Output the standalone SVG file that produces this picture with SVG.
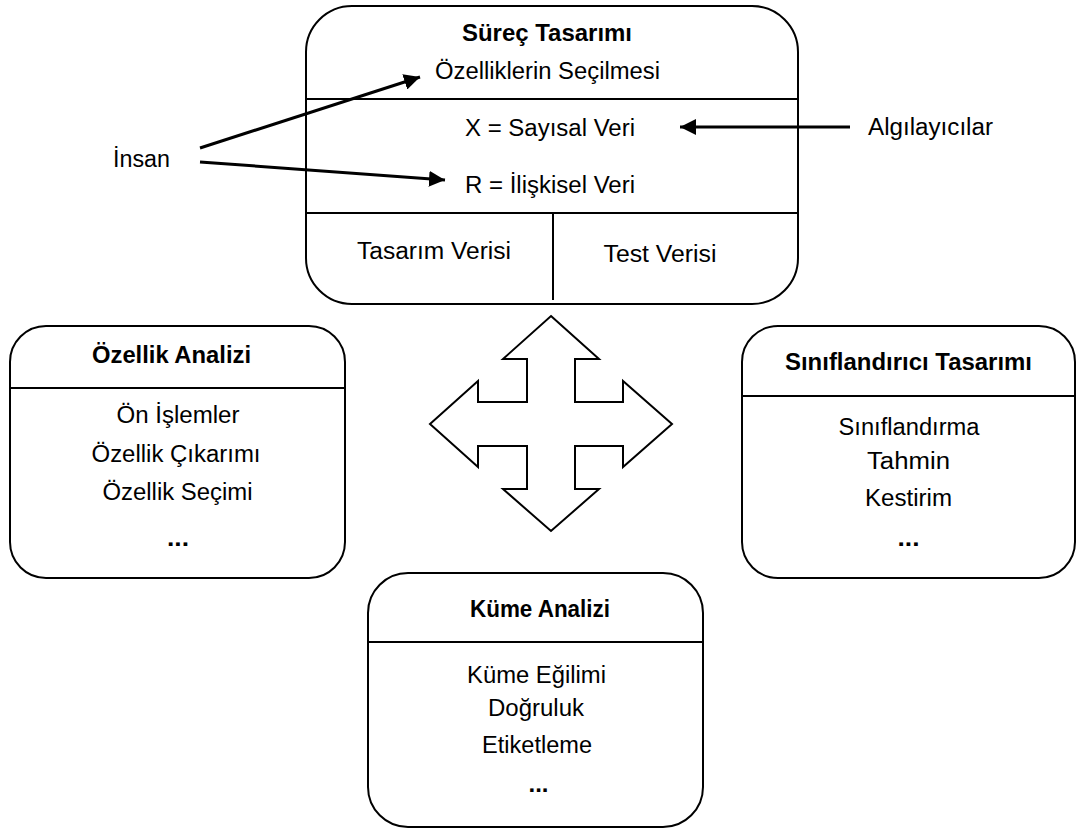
<svg xmlns="http://www.w3.org/2000/svg" width="1078" height="829" viewBox="0 0 1078 829">
<style>
.box{fill:#fff;stroke:#000;stroke-width:2}
.sep{stroke:#000;stroke-width:2}
.t{font-family:"Liberation Sans",Arial,sans-serif;font-size:23px;fill:#000;text-anchor:middle}
.b{font-weight:bold}
.l{text-anchor:start}
.conn{stroke:#000;stroke-width:3;fill:none}
</style>
<defs>
<marker id="ah" markerUnits="userSpaceOnUse" markerWidth="17" markerHeight="16" refX="16" refY="8" orient="auto">
<path d="M0,0 L16,8 L0,16 z" fill="#000"/>
</marker>
</defs>
<rect width="1078" height="829" fill="#fff"/>

<g id="surec">
<rect class="box" x="306" y="6" width="492" height="298" rx="46" ry="46"/>
<line class="sep" x1="306" y1="99" x2="798" y2="99"/>
<line class="sep" x1="306" y1="213" x2="798" y2="213"/>
<line class="sep" x1="553" y1="213" x2="553" y2="300"/>
<text class="t b" x="547" y="41" textLength="170" lengthAdjust="spacingAndGlyphs">Süreç Tasarımı</text>
<text class="t" x="547.5" y="79" textLength="225" lengthAdjust="spacingAndGlyphs">Özelliklerin Seçilmesi</text>
<text class="t" x="550" y="136" textLength="170" lengthAdjust="spacingAndGlyphs">X = Sayısal Veri</text>
<text class="t" x="550" y="193" textLength="170" lengthAdjust="spacingAndGlyphs">R = İlişkisel Veri</text>
<text class="t" x="434" y="259" textLength="154" lengthAdjust="spacingAndGlyphs">Tasarım Verisi</text>
<text class="t" x="660" y="262" textLength="113" lengthAdjust="spacingAndGlyphs">Test Verisi</text>
</g>

<g id="insan">
<text class="t l" x="113" y="167" textLength="57" lengthAdjust="spacingAndGlyphs">İnsan</text>
</g>

<g id="algilayicilar">
<text class="t l" x="868" y="135" textLength="125" lengthAdjust="spacingAndGlyphs">Algılayıcılar</text>
</g>

<g id="ozellik">
<rect class="box" x="10" y="326" width="335" height="252" rx="36" ry="36"/>
<line class="sep" x1="10" y1="388" x2="345" y2="388"/>
<text class="t b" x="171.5" y="363" textLength="159" lengthAdjust="spacingAndGlyphs">Özellik Analizi</text>
<text class="t" x="178" y="423" textLength="123" lengthAdjust="spacingAndGlyphs">Ön İşlemler</text>
<text class="t" x="176" y="462" textLength="169" lengthAdjust="spacingAndGlyphs">Özellik Çıkarımı</text>
<text class="t" x="177.5" y="500" textLength="150" lengthAdjust="spacingAndGlyphs">Özellik Seçimi</text>
<text class="t b" x="178" y="546" textLength="22" lengthAdjust="spacingAndGlyphs">...</text>
</g>

<g id="siniflandirici">
<rect class="box" x="742" y="326" width="333" height="252" rx="36" ry="36"/>
<line class="sep" x1="742" y1="396" x2="1075" y2="396"/>
<text class="t b" x="908.5" y="370" textLength="247" lengthAdjust="spacingAndGlyphs">Sınıflandırıcı Tasarımı</text>
<text class="t" x="909" y="435" textLength="141" lengthAdjust="spacingAndGlyphs">Sınıflandırma</text>
<text class="t" x="908.5" y="469" textLength="83" lengthAdjust="spacingAndGlyphs">Tahmin</text>
<text class="t" x="908.5" y="506" textLength="87" lengthAdjust="spacingAndGlyphs">Kestirim</text>
<text class="t b" x="908.5" y="546" textLength="22" lengthAdjust="spacingAndGlyphs">...</text>
</g>

<g id="kume">
<rect class="box" x="368" y="573" width="335" height="254" rx="40" ry="40"/>
<line class="sep" x1="368" y1="642" x2="703" y2="642"/>
<text class="t b" x="540" y="617" textLength="140" lengthAdjust="spacingAndGlyphs">Küme Analizi</text>
<text class="t" x="536.5" y="683" textLength="139" lengthAdjust="spacingAndGlyphs">Küme Eğilimi</text>
<text class="t" x="536" y="716" textLength="96" lengthAdjust="spacingAndGlyphs">Doğruluk</text>
<text class="t" x="537" y="753" textLength="110" lengthAdjust="spacingAndGlyphs">Etiketleme</text>
<text class="t b" x="538.5" y="792" textLength="20" lengthAdjust="spacingAndGlyphs">...</text>
</g>

<g id="cross">
<polygon fill="#fff" stroke="#000" stroke-width="2" stroke-linejoin="miter" points="551,316 599,359 575,359 575,402 623,402 623,381 672,424 623,467 623,446 575,446 575,489 599,489 551,531 503,489 527,489 527,446 478,446 478,467 430,424 478,381 478,402 527,402 527,359 503,359"/>
</g>

<g id="connectors">
<line class="conn" x1="200" y1="148" x2="420" y2="77" marker-end="url(#ah)"/>
<line class="conn" x1="200" y1="162" x2="445" y2="180" marker-end="url(#ah)"/>
<line class="conn" x1="850" y1="127" x2="680" y2="127" marker-end="url(#ah)"/>
</g>
</svg>
